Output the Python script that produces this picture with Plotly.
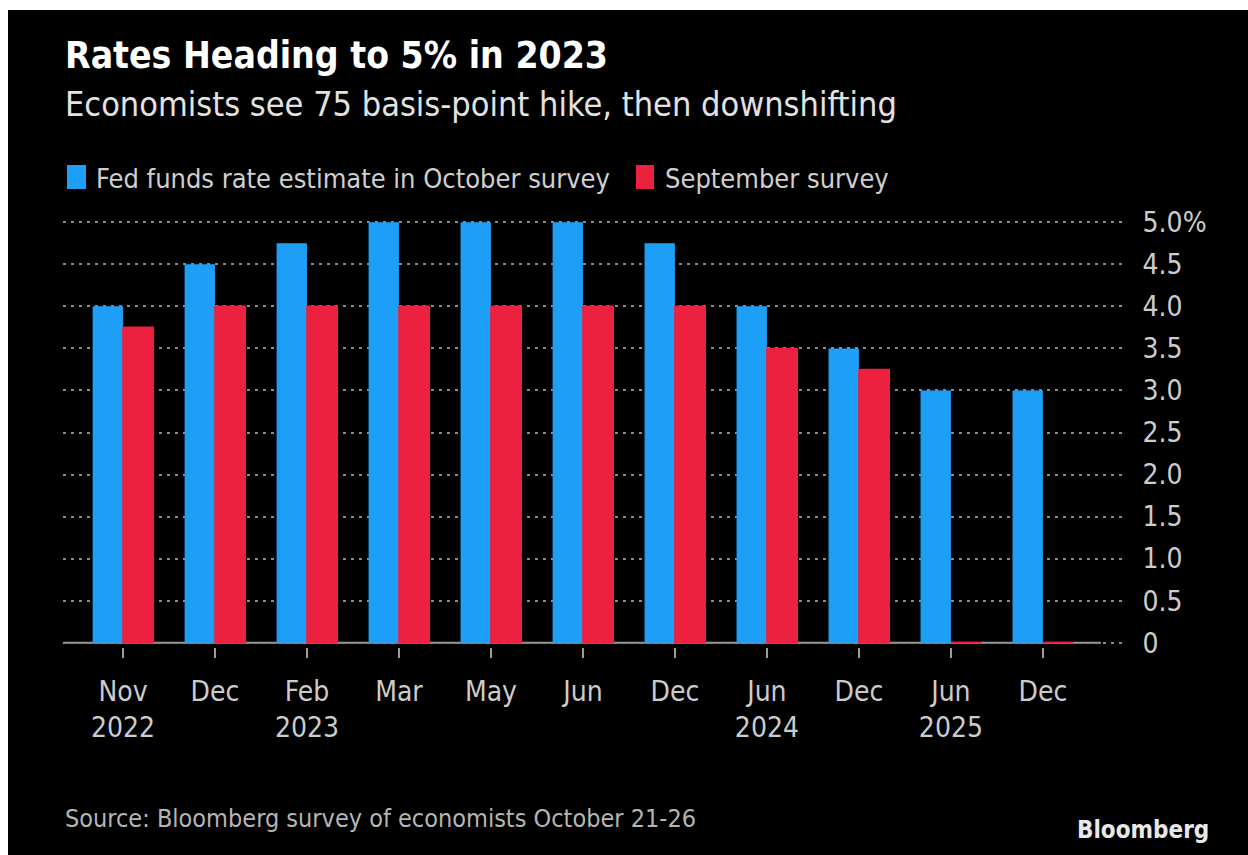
import plotly.graph_objects as go

# ---- data ----
month_labels = ["Nov<br>2022", "Dec", "Feb<br>2023", "Mar", "May", "Jun", "Dec",
                "Jun<br>2024", "Dec", "Jun<br>2025", "Dec"]
october_survey = [4.0, 4.5, 4.75, 5.0, 5.0, 5.0, 4.75, 4.0, 3.5, 3.0, 3.0]
september_survey = [3.75, 4.0, 4.0, 4.0, 4.0, 4.0, 4.0, 3.5, 3.25, 0, 0]
y_tickvals = [0, 0.5, 1.0, 1.5, 2.0, 2.5, 3.0, 3.5, 4.0, 4.5, 5.0]
y_ticktext = ["0", "0.5", "1.0", "1.5", "2.0", "2.5", "3.0", "3.5", "4.0", "4.5", "5.0%"]

BLUE = "#1E9FF7"
RED = "#EC2140"
FONT = "Liberation Sans Narrow, DejaVu Sans Condensed, Arial Narrow, sans-serif"

W, H = 1248, 855
ML, MR, MT, MB = 63, 126, 218, 208
PW = W - ML - MR
PH = H - MT - MB


def px2x(px):
    return (px - ML) / PW


def py2y(py):
    return (H - MB - py) / PH


x_pos = list(range(len(month_labels)))

fig = go.Figure()
fig.add_trace(go.Bar(x=x_pos, y=october_survey, name="Fed funds rate estimate in October survey",
                     marker=dict(color=BLUE, line=dict(width=0))))
fig.add_trace(go.Bar(x=x_pos, y=september_survey, name="September survey",
                     marker=dict(color=RED, line=dict(color=RED, width=1.5))))

shapes = [
    # zero axis line
    dict(type="line", xref="x", yref="y", x0=-0.652, x1=10.63, y0=0, y1=0,
         line=dict(color="#9a9a9a", width=2), layer="below"),
    # white margins of the original image
    dict(type="rect", xref="paper", yref="paper", x0=px2x(0), x1=px2x(W), y0=py2y(10), y1=py2y(0),
         fillcolor="white", line=dict(width=0), layer="above"),
    dict(type="rect", xref="paper", yref="paper", x0=px2x(0), x1=px2x(8), y0=py2y(H), y1=py2y(0),
         fillcolor="white", line=dict(width=0), layer="above"),
    # legend swatches
    dict(type="rect", xref="paper", yref="paper", x0=px2x(67), x1=px2x(86), y0=py2y(189), y1=py2y(165),
         fillcolor=BLUE, line=dict(width=0)),
    dict(type="rect", xref="paper", yref="paper", x0=px2x(636), x1=px2x(654), y0=py2y(189), y1=py2y(165),
         fillcolor=RED, line=dict(width=0)),
]

annotations = [
    dict(text="<b>Rates Heading to 5% in 2023</b>", x=px2x(63), y=py2y(56), xref="paper", yref="paper",
         xanchor="left", yanchor="middle", showarrow=False, font=dict(size=37, color="white", family=FONT)),
    dict(text="Economists see 75 basis-point hike, then downshifting", x=px2x(63), y=py2y(104),
         xref="paper", yref="paper", xanchor="left", yanchor="middle", showarrow=False,
         font=dict(size=34, color="#e2e2e2", family=FONT)),
    dict(text="Fed funds rate estimate in October survey", x=px2x(94), y=py2y(178),
         xref="paper", yref="paper", xanchor="left", yanchor="middle", showarrow=False,
         font=dict(size=27, color="#cfcfcf", family=FONT)),
    dict(text="September survey", x=px2x(663), y=py2y(178),
         xref="paper", yref="paper", xanchor="left", yanchor="middle", showarrow=False,
         font=dict(size=27, color="#cfcfcf", family=FONT)),
    dict(text="Source: Bloomberg survey of economists October 21-26", x=px2x(63), y=py2y(818),
         xref="paper", yref="paper", xanchor="left", yanchor="middle", showarrow=False,
         font=dict(size=25, color="#b5b5b5", family=FONT)),
    dict(text="<b>Bloomberg</b>", x=px2x(1211), y=py2y(830),
         xref="paper", yref="paper", xanchor="right", yanchor="middle", showarrow=False,
         font=dict(size=24, color="#e8e8e8", family=FONT)),
]

fig.update_layout(
    width=W, height=H,
    margin=dict(l=ML, r=MR, t=MT, b=MB),
    paper_bgcolor="black", plot_bgcolor="black",
    barmode="group", bargap=0.34, bargroupgap=0,
    showlegend=False,
    shapes=shapes, annotations=annotations,
    font=dict(family=FONT, color="#cccccc", size=28),
    xaxis=dict(range=[-0.652, 10.86], tickmode="array", tickvals=x_pos, ticktext=month_labels,
               showgrid=False, zeroline=False, showline=False,
               ticks="outside", ticklen=10, tickwidth=2, tickcolor="#9a9a9a",
               ticklabelstandoff=9,
               tickfont=dict(size=28, color="#cccccc", family=FONT)),
    yaxis=dict(range=[-0.05, 5.05], side="right", tickmode="array", tickvals=y_tickvals,
               ticktext=y_ticktext, showgrid=True, gridcolor="#8a8a8a", gridwidth=2,
               griddash="3px,5px", zeroline=False, showline=False,
               ticks="outside", ticklen=14, tickcolor="rgba(0,0,0,0)",
               tickfont=dict(size=28, color="#cccccc", family=FONT)),
)

fig.write_html("out.html")
